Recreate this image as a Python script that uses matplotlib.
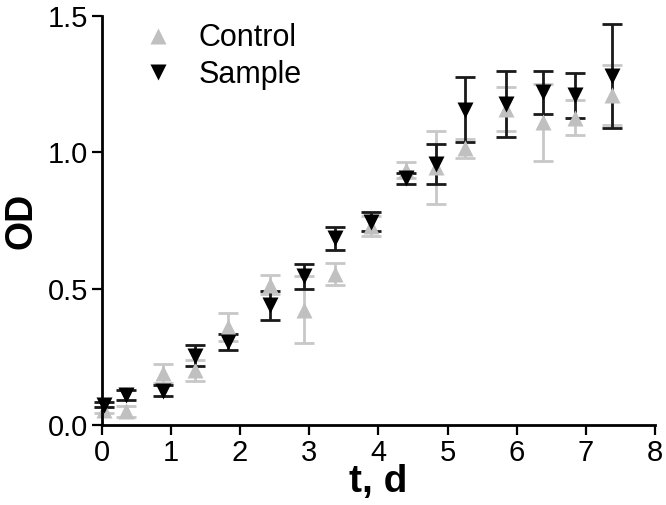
import matplotlib
matplotlib.use('Agg')
import matplotlib.pyplot as plt
from matplotlib.lines import Line2D

plt.rcParams['font.family'] = ['Liberation Sans', 'DejaVu Sans']

t_days = [0.03, 0.35, 0.88, 1.35, 1.83, 2.43, 2.92, 3.38, 3.89, 4.40, 4.84, 5.25, 5.84, 6.38, 6.85, 7.38]
control = [0.055, 0.05, 0.19, 0.20, 0.36, 0.515, 0.423, 0.555, 0.73, 0.935, 0.945, 1.015, 1.16, 1.11, 1.128, 1.21]
control_err = [0.01, 0.02, 0.035, 0.04, 0.05, 0.035, 0.123, 0.04, 0.035, 0.03, 0.135, 0.035, 0.08, 0.14, 0.063, 0.11]
sample = [0.075, 0.11, 0.125, 0.255, 0.305, 0.44, 0.545, 0.685, 0.746, 0.905, 0.958, 1.157, 1.178, 1.22, 1.21, 1.28]
sample_err = [0.01, 0.02, 0.02, 0.04, 0.03, 0.053, 0.045, 0.043, 0.036, 0.02, 0.072, 0.118, 0.122, 0.078, 0.082, 0.19]

gray = '#c0c0c0'
black = '#000000'

fig = plt.figure(figsize=(6.66, 5.05), dpi=100)
ax = fig.add_axes([0.1527, 0.1584, 0.8308, 0.8096])

ec = ax.errorbar(t_days, control, yerr=control_err, fmt='^', color=gray, ecolor='#c8c8c8',
                 ms=12, elinewidth=2, capsize=7, capthick=2, mec='none')
es = ax.errorbar(t_days, sample, yerr=sample_err, fmt='v', color=black, ecolor='#1a1a1a',
                 ms=12, elinewidth=2, capsize=7, capthick=2, mec='none')
for cont in (ec, es):
    for art in cont.get_children():
        art.set_clip_on(False)

ax.set_xlim(0, 8)
ax.set_ylim(0, 1.5)
ax.set_xticks(range(0, 9))
ax.set_yticks([0.0, 0.5, 1.0, 1.5])
ax.set_yticklabels(['0.0', '0.5', '1.0', '1.5'])

for side in ('top', 'right'):
    ax.spines[side].set_visible(False)
for side in ('left', 'bottom'):
    ax.spines[side].set_linewidth(2)
ax.tick_params(direction='out', length=7, width=1.6, labelsize=21, pad=3)

ax.set_xlabel('t, d', fontsize=28, fontweight='bold', labelpad=-2)
ax.set_ylabel('OD', fontsize=27, fontweight='bold')
ax.yaxis.set_label_coords(-0.113, 0.5)

handles = [Line2D([], [], ls='none', marker='^', color=gray, ms=12, mec='none'),
           Line2D([], [], ls='none', marker='v', color=black, ms=12, mec='none')]
ax.legend(handles, ['Control', 'Sample'], loc='upper left', bbox_to_anchor=(0.01, 1.05),
          frameon=False, fontsize=22, handletextpad=0.6, labelspacing=0.22, handlelength=1.5)

fig.savefig('out.png', dpi=100)
